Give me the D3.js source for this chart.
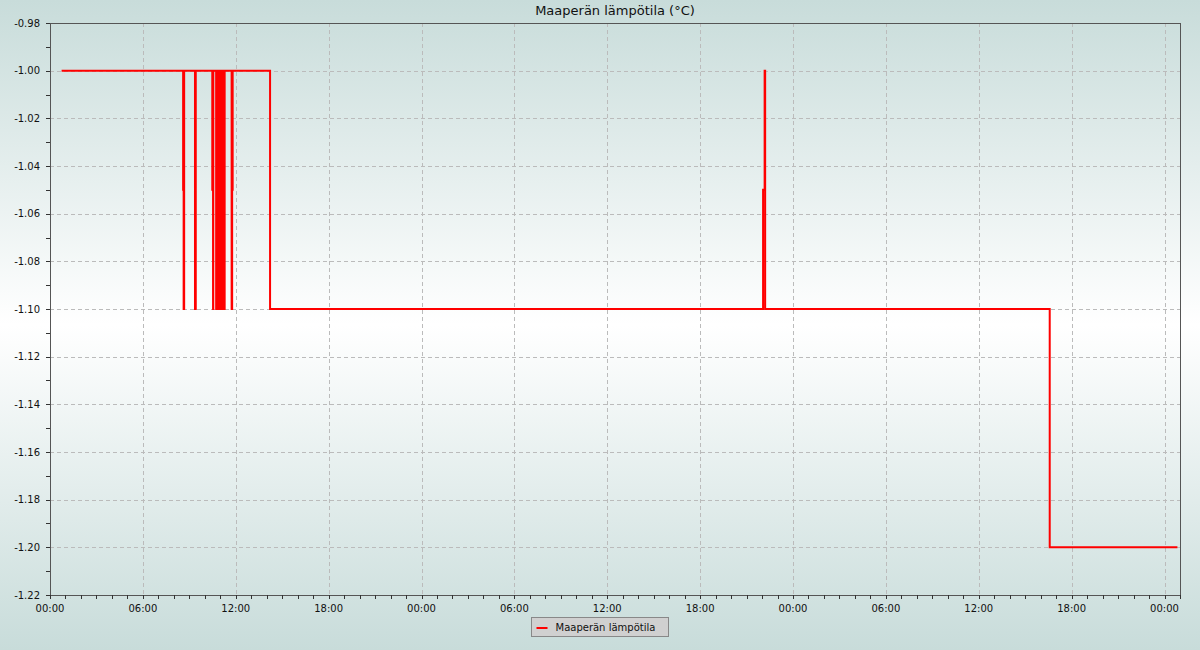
<!DOCTYPE html>
<html>
<head>
<meta charset="utf-8">
<script src="https://cdn.jsdelivr.net/npm/d3@7"></script>
<style>
  body { margin: 0; padding: 0; }
  svg { display: block; font-family: "DejaVu Sans", sans-serif; }
</style>
</head>
<body>
<div id="chart"></div>
<script>
// Measurement times and soil temperature readings
var times = [
  "2024-01-15 00:45", "2024-01-15 08:36", "2024-01-15 08:38", "2024-01-15 08:40",
  "2024-01-15 09:22", "2024-01-15 09:25", "2024-01-15 10:29", "2024-01-15 10:32",
  "2024-01-15 10:33",
  "2024-01-15 10:44", "2024-01-15 10:45", "2024-01-15 10:46", "2024-01-15 10:47",
  "2024-01-15 10:48", "2024-01-15 10:49", "2024-01-15 10:50", "2024-01-15 10:51",
  "2024-01-15 10:52", "2024-01-15 10:53", "2024-01-15 10:54", "2024-01-15 10:55",
  "2024-01-15 10:56", "2024-01-15 10:57", "2024-01-15 10:58", "2024-01-15 10:59",
  "2024-01-15 11:00", "2024-01-15 11:01", "2024-01-15 11:02", "2024-01-15 11:03",
  "2024-01-15 11:04", "2024-01-15 11:05", "2024-01-15 11:06", "2024-01-15 11:07",
  "2024-01-15 11:08", "2024-01-15 11:09", "2024-01-15 11:10", "2024-01-15 11:11",
  "2024-01-15 11:12", "2024-01-15 11:13", "2024-01-15 11:14", "2024-01-15 11:15",
  "2024-01-15 11:16", "2024-01-15 11:17",
  "2024-01-15 11:44", "2024-01-15 11:46", "2024-01-15 11:48", "2024-01-15 14:13",
  "2024-01-16 22:04", "2024-01-16 22:10", "2024-01-16 22:12", "2024-01-17 16:35",
  "2024-01-18 00:50"
];
var values = [
  -1.00, -1.05, -1.10, -1.00,
  -1.10, -1.00, -1.05, -1.10,
  -1.00,
  -1.10, -1.00, -1.10, -1.00,
  -1.10, -1.00, -1.10, -1.00,
  -1.10, -1.00, -1.10, -1.00,
  -1.10, -1.00, -1.10, -1.00,
  -1.10, -1.00, -1.10, -1.00,
  -1.10, -1.00, -1.10, -1.00,
  -1.10, -1.00, -1.10, -1.00,
  -1.10, -1.00, -1.10, -1.00,
  -1.10, -1.00,
  -1.10, -1.05, -1.00, -1.10,
  -1.05, -1.00, -1.10, -1.20,
  -1.20
];
var title = "Maaperän lämpötila (°C)";
var series_name = "Maaperän lämpötila";
var x_start = "2024-01-15 00:00";
var x_end = "2024-01-18 01:00";
var y_min = -1.22;
var y_max = -0.98;

var width = 1200;
var height = 650;
var margin = {top: 23, right: 20, bottom: 55, left: 50};
var plot_w = width - margin.left - margin.right;
var plot_h = height - margin.top - margin.bottom;

var parse = d3.timeParse("%Y-%m-%d %H:%M");
var data = times.map(function(t, i){
  return {t: parse(t), v: values[i]};
});

var x_scale = d3.scaleTime()
                .domain([parse(x_start), parse(x_end)])
                .range([0, plot_w]);

var y_scale = d3.scaleLinear()
                .domain([y_min, y_max])
                .range([plot_h, 0]);

var svg = d3.select('#chart')
            .append('svg')
            .attr('width', width)
            .attr('height', height);

// Background gradient, light at the middle
var grad = svg.append('defs').append('linearGradient')
              .attr('id', 'bg')
              .attr('x1', 0).attr('y1', 0).attr('x2', 0).attr('y2', 1);
grad.append('stop').attr('offset', '0%').attr('stop-color', '#c8dcda');
grad.append('stop').attr('offset', '50%').attr('stop-color', '#ffffff');
grad.append('stop').attr('offset', '100%').attr('stop-color', '#c8dcda');

svg.append('rect')
   .attr('width', width)
   .attr('height', height)
   .attr('fill', 'url(#bg)');

var g = svg.append('g')
           .attr('transform', 'translate(' + margin.left + ',' + margin.top + ')');

// Grid lines
var y_major = y_scale.ticks(12);
var x_major = x_scale.ticks(d3.timeHour.every(6));

g.selectAll('.ygrid')
 .data(y_major)
 .enter()
 .append('line')
 .attr('x1', 0)
 .attr('x2', plot_w)
 .attr('y1', function(d){ return Math.round(y_scale(d)) + 0.5; })
 .attr('y2', function(d){ return Math.round(y_scale(d)) + 0.5; })
 .attr('stroke', '#bbbbbb')
 .attr('stroke-dasharray', '4,3');

g.selectAll('.xgrid')
 .data(x_major)
 .enter()
 .append('line')
 .attr('y1', 0)
 .attr('y2', plot_h)
 .attr('x1', function(d){ return Math.round(x_scale(d)) + 0.5; })
 .attr('x2', function(d){ return Math.round(x_scale(d)) + 0.5; })
 .attr('stroke', '#bbbbbb')
 .attr('stroke-dasharray', '4,3');

// Border of the plot
g.append('rect')
 .attr('x', 0.5)
 .attr('y', 0.5)
 .attr('width', plot_w)
 .attr('height', plot_h)
 .attr('fill', 'none')
 .attr('stroke', '#555555');

// Minor ticks on the y axis every 0.01, labels every 0.02
g.selectAll('.ytick')
 .data(y_scale.ticks(24))
 .enter()
 .append('line')
 .attr('x1', -4)
 .attr('x2', 0)
 .attr('y1', function(d){ return Math.round(y_scale(d)) + 0.5; })
 .attr('y2', function(d){ return Math.round(y_scale(d)) + 0.5; })
 .attr('stroke', '#333');

g.selectAll('.ylabel')
 .data(y_major)
 .enter()
 .append('text')
 .text(function(d){ return d.toFixed(2); })
 .attr('x', -10)
 .attr('y', function(d){ return y_scale(d); })
 .attr('dy', '0.35em')
 .attr('text-anchor', 'end')
 .style('font-size', '10px')
 .style('fill', '#111');

// Hourly ticks on the x axis, labels every 6 hours
g.selectAll('.xtick')
 .data(x_scale.ticks(d3.timeHour.every(1)))
 .enter()
 .append('line')
 .attr('y1', plot_h)
 .attr('y2', plot_h + 4)
 .attr('x1', function(d){ return Math.round(x_scale(d)) + 0.5; })
 .attr('x2', function(d){ return Math.round(x_scale(d)) + 0.5; })
 .attr('stroke', '#333');

g.selectAll('.xlabel')
 .data(x_major)
 .enter()
 .append('text')
 .text(d3.timeFormat('%H:%M'))
 .attr('x', function(d){ return x_scale(d); })
 .attr('y', plot_h + 17)
 .attr('text-anchor', 'middle')
 .style('font-size', '10px')
 .style('fill', '#111');

// The data line as steps
var line = d3.line()
             .x(function(d){ return x_scale(d.t); })
             .y(function(d){ return y_scale(d.v); })
             .curve(d3.curveStepAfter);

g.append('path')
 .datum(data)
 .attr('d', line)
 .attr('fill', 'none')
 .attr('stroke', '#ff0000')
 .attr('stroke-width', 2);

// Title
svg.append('text')
   .text(title)
   .attr('x', margin.left + plot_w / 2)
   .attr('y', 15)
   .attr('text-anchor', 'middle')
   .style('font-size', '13px')
   .style('fill', '#111');

// Legend
var legend = svg.append('g')
                .attr('transform', 'translate(531.5, 617.5)');
legend.append('rect')
      .attr('width', 137)
      .attr('height', 19)
      .attr('fill', '#d0d0d0')
      .attr('stroke', '#888');
legend.append('line')
      .attr('x1', 5).attr('x2', 16)
      .attr('y1', 10.5).attr('y2', 10.5)
      .attr('stroke', '#ff0000')
      .attr('stroke-width', 2);
legend.append('text')
      .text(series_name)
      .attr('x', 24)
      .attr('y', 13.5)
      .style('font-size', '10px')
      .style('fill', '#111');
</script>
</body>
</html>
